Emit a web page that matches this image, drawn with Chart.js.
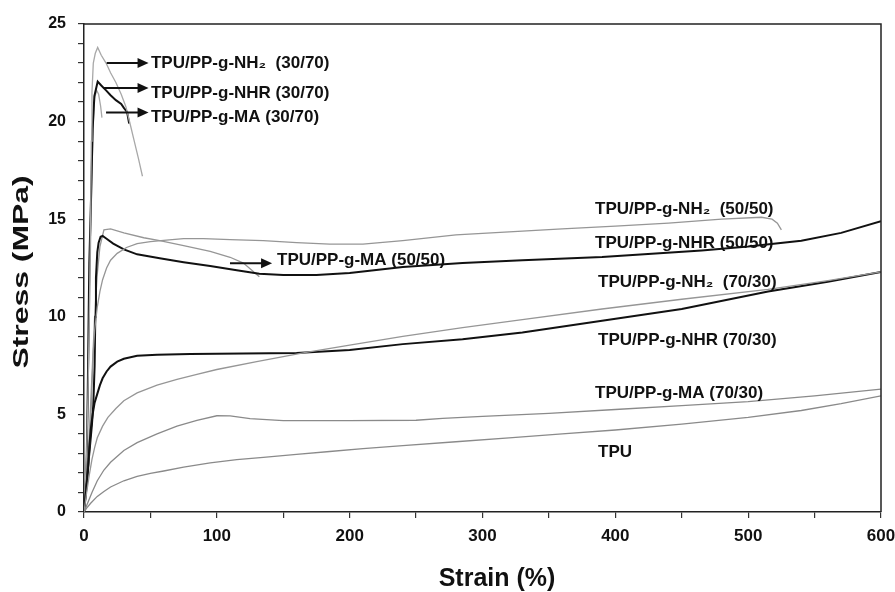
<!DOCTYPE html>
<html>
<head>
<meta charset="utf-8">
<script src="https://cdn.jsdelivr.net/npm/chart.js@4/dist/chart.umd.min.js"></script>
<style>
html,body{margin:0;padding:0;background:#fff;}
#wrap{width:895px;height:592px;}
</style>
</head>
<body>
<div id="wrap"><canvas id="c" width="895" height="592"></canvas></div>
<script>
// ---- Data (strain %, stress MPa) ----
const tpuStrain = [0, 2, 5, 10, 15, 20, 30, 40, 50, 60, 75, 95, 115, 135, 160, 185, 210, 240, 280, 320, 360, 400, 450, 500, 540, 570, 600];
const tpuStress = [0, 0.2, 0.45, 0.8, 1.05, 1.28, 1.6, 1.82, 1.98, 2.1, 2.3, 2.52, 2.68, 2.8, 2.95, 3.1, 3.25, 3.4, 3.6, 3.8, 4.0, 4.2, 4.5, 4.85, 5.2, 5.55, 5.95];

const ma7030Strain = [0, 3, 6, 10, 15, 20, 30, 40, 55, 70, 85, 100, 110, 125, 150, 200, 250, 270, 300, 350, 400, 450, 500, 550, 600];
const ma7030Stress = [0, 0.5, 1.0, 1.6, 2.15, 2.55, 3.15, 3.55, 4.0, 4.4, 4.7, 4.93, 4.92, 4.78, 4.68, 4.68, 4.7, 4.8, 4.9, 5.05, 5.25, 5.45, 5.65, 5.95, 6.3];

const nh27030Strain = [0, 2, 4, 6, 8, 10, 14, 18, 24, 30, 40, 55, 70, 85, 100, 130, 165, 200, 240, 285, 330, 390, 450, 515, 560, 600];
const nh27030Stress = [0, 1.0, 1.9, 2.7, 3.3, 3.8, 4.4, 4.85, 5.3, 5.7, 6.1, 6.5, 6.8, 7.05, 7.3, 7.7, 8.15, 8.55, 9.0, 9.45, 9.85, 10.4, 10.9, 11.4, 11.85, 12.3];

const nhr7030Strain = [0, 1.5, 3, 4, 5, 6.5, 8, 10, 12, 14, 17, 20, 25, 30, 40, 55, 80, 120, 160, 200, 240, 285, 330, 390, 450, 515, 560, 600];
const nhr7030Stress = [0, 1.0, 2.1, 3.3, 4.2, 5.0, 5.6, 6.05, 6.5, 6.85, 7.2, 7.45, 7.7, 7.85, 8.0, 8.06, 8.1, 8.12, 8.15, 8.3, 8.6, 8.85, 9.2, 9.8, 10.4, 11.3, 11.8, 12.3];

const nh25050Strain = [0, 3, 5, 6, 7, 8, 10, 12, 14, 17, 20, 25, 32, 40, 50, 62, 75, 90, 110, 135, 160, 185, 210, 240, 280, 320, 360, 400, 440, 480, 510, 518, 522, 525];
const nh25050Stress = [0, 2, 4.5, 6.5, 8.2, 9.3, 10.5, 11.3, 11.9, 12.5, 12.9, 13.25, 13.55, 13.75, 13.85, 13.93, 14.0, 14.0, 13.95, 13.9, 13.8, 13.72, 13.72, 13.9, 14.2, 14.35, 14.5, 14.65, 14.8, 15.0, 15.1, 15.0, 14.8, 14.45];

const nhr5050Strain = [0, 2, 4, 6, 7, 8, 8.5, 9, 10, 11, 12.5, 14, 17, 22, 30, 40, 57, 75, 95, 115, 132, 150, 175, 200, 240, 285, 330, 390, 465, 500, 540, 570, 600];
const nhr5050Stress = [0, 1.5, 3, 4.5, 5.5, 7.5, 10, 12, 13.3, 13.8, 14.1, 14.14, 14.0, 13.75, 13.45, 13.2, 13.0, 12.8, 12.6, 12.38, 12.2, 12.14, 12.14, 12.25, 12.55, 12.75, 12.9, 13.06, 13.4, 13.6, 13.9, 14.3, 14.9];

const ma5050Strain = [0, 2, 4, 6, 8, 10, 12, 15, 20, 30, 45, 57, 75, 95, 110, 120, 127, 132];
const ma5050Stress = [0, 1.5, 4, 7, 10, 12.2, 13.6, 14.45, 14.5, 14.3, 14.05, 13.9, 13.65, 13.35, 13.05, 12.75, 12.35, 12.05];

const nh23070Strain = [0, 2, 3, 4, 5, 5.5, 6, 7, 8.5, 10.3, 13, 16.6, 20, 24, 28, 31.6, 35, 37.6, 41, 44];
const nh23070Stress = [0, 3, 6, 10, 15, 19, 21.5, 23, 23.5, 23.8, 23.4, 23.0, 22.5, 22.0, 21.4, 20.75, 19.8, 19.06, 18.1, 17.2];

const nhr3070Strain = [0, 1, 2, 2.8, 3.5, 4, 5.3, 6.5, 7.8, 10.3, 13, 16.6, 20, 24, 28, 30, 32.4, 34];
const nhr3070Stress = [0, 1, 2.5, 6, 10, 12.75, 16.1, 19.6, 21.3, 22.05, 21.85, 21.6, 21.35, 21.1, 20.9, 20.7, 20.5, 19.9];

const ma3070Strain = [0, 2, 3, 4, 5, 6, 7, 8, 9.5, 11, 12.5, 13.5];
const ma3070Stress = [0, 3, 6, 10, 14, 17.5, 20, 21.2, 21.6, 21.4, 20.8, 20.2];

// ---- Tick definitions ----
const xMajorTicks = [0, 100, 200, 300, 400, 500, 600];
const yMajorTicks = [0, 5, 10, 15, 20, 25];

// ---- Curve labels (text, anchor in data units) ----
const curveLabels = [
  {text: 'TPU/PP-g-NH\u2082  (30/70)', x: 50.4, y: 23.0},
  {text: 'TPU/PP-g-NHR (30/70)', x: 50.4, y: 21.47},
  {text: 'TPU/PP-g-MA (30/70)', x: 50.4, y: 20.24},
  {text: 'TPU/PP-g-MA (50/50)', x: 145.3, y: 12.9},
  {text: 'TPU/PP-g-NH\u2082  (50/50)', x: 384.7, y: 15.52},
  {text: 'TPU/PP-g-NHR (50/50)', x: 384.7, y: 13.78},
  {text: 'TPU/PP-g-NH\u2082  (70/30)', x: 387, y: 11.78},
  {text: 'TPU/PP-g-NHR (70/30)', x: 387, y: 8.81},
  {text: 'TPU/PP-g-MA (70/30)', x: 384.7, y: 6.10},
  {text: 'TPU', x: 387, y: 3.07}
];
const arrows = [
  {x1: 17.1, x2: 48.6, y: 23.0},
  {x1: 14.3, x2: 48.6, y: 21.72},
  {x1: 16.6, x2: 48.6, y: 20.46},
  {x1: 109.9, x2: 141.6, y: 12.74}
];

const FONT = '"Liberation Sans", Arial, sans-serif';
const pts = (xs, ys) => xs.map((x, i) => ({x: x, y: ys[i]}));

const series = [
  {label: 'TPU', xs: tpuStrain, ys: tpuStress, color: '#8a8a8a', w: 1.3},
  {label: 'TPU/PP-g-MA (70/30)', xs: ma7030Strain, ys: ma7030Stress, color: '#8a8a8a', w: 1.3},
  {label: 'TPU/PP-g-NH2 (70/30)', xs: nh27030Strain, ys: nh27030Stress, color: '#969696', w: 1.3},
  {label: 'TPU/PP-g-NHR (70/30)', xs: nhr7030Strain, ys: nhr7030Stress, color: '#111111', w: 2},
  {label: 'TPU/PP-g-NH2 (50/50)', xs: nh25050Strain, ys: nh25050Stress, color: '#969696', w: 1.3},
  {label: 'TPU/PP-g-NHR (50/50)', xs: nhr5050Strain, ys: nhr5050Stress, color: '#111111', w: 2},
  {label: 'TPU/PP-g-MA (50/50)', xs: ma5050Strain, ys: ma5050Stress, color: '#969696', w: 1.3},
  {label: 'TPU/PP-g-NH2 (30/70)', xs: nh23070Strain, ys: nh23070Stress, color: '#a8a8a8', w: 1.3},
  {label: 'TPU/PP-g-NHR (30/70)', xs: nhr3070Strain, ys: nhr3070Stress, color: '#111111', w: 2},
  {label: 'TPU/PP-g-MA (30/70)', xs: ma3070Strain, ys: ma3070Stress, color: '#a8a8a8', w: 1.3}
];

const annotPlugin = {
  id: 'annot',
  afterDraw(chart) {
    const ctx = chart.ctx, xs = chart.scales.x, ys = chart.scales.y, ca = chart.chartArea;
    ctx.save();
    // frame top & right
    ctx.strokeStyle = '#222';
    ctx.lineWidth = 1.5;
    ctx.beginPath();
    ctx.moveTo(ca.left, ca.top);
    ctx.lineTo(ca.right, ca.top);
    ctx.lineTo(ca.right, ca.bottom);
    ctx.stroke();
    // curve labels
    ctx.fillStyle = '#111';
    ctx.font = 'bold 17px ' + FONT;
    ctx.textAlign = 'left';
    ctx.textBaseline = 'middle';
    curveLabels.forEach(l => {
      ctx.fillText(l.text, xs.getPixelForValue(l.x), ys.getPixelForValue(l.y));
    });
    // arrows
    ctx.strokeStyle = '#111';
    ctx.lineWidth = 2;
    arrows.forEach(a => {
      const x1 = xs.getPixelForValue(a.x1), x2 = xs.getPixelForValue(a.x2), y = ys.getPixelForValue(a.y);
      ctx.beginPath();
      ctx.moveTo(x1, y);
      ctx.lineTo(x2 - 8, y);
      ctx.stroke();
      ctx.beginPath();
      ctx.moveTo(x2, y);
      ctx.lineTo(x2 - 11, y - 5);
      ctx.lineTo(x2 - 11, y + 5);
      ctx.closePath();
      ctx.fill();
    });
    // axis titles
    ctx.font = 'bold 25px ' + FONT;
    ctx.textAlign = 'center';
    ctx.fillText('Strain (%)', 497, 579);
    ctx.save();
    ctx.translate(22, 272);
    ctx.rotate(-Math.PI / 2);
    ctx.scale(1.45, 1);
    ctx.font = 'bold 22px ' + FONT;
    ctx.fillText('Stress (MPa)', 0, 0);
    ctx.restore();
    ctx.restore();
  }
};

new Chart(document.getElementById('c'), {
  type: 'line',
  data: {
    datasets: series.map(s => ({
      label: s.label,
      data: pts(s.xs, s.ys),
      borderColor: s.color,
      borderWidth: s.w,
      pointRadius: 0,
      fill: false,
      tension: 0
    }))
  },
  options: {
    responsive: false,
    animation: false,
    devicePixelRatio: 1,
    layout: {padding: {top: 24, right: 14, left: 0, bottom: 0}},
    plugins: {legend: {display: false}, tooltip: {enabled: false}},
    scales: {
      x: {
        type: 'linear', min: 0, max: 600,
        afterFit(scale) { scale.height = 80; scale.paddingLeft = 0; scale.paddingRight = 0; },
        ticks: {
          stepSize: 50, autoSkip: false, maxRotation: 0, padding: 8,
          color: '#111', font: {family: FONT, size: 17, weight: 'bold'},
          callback: v => xMajorTicks.includes(v) ? String(v) : ''
        },
        grid: {drawOnChartArea: false, drawTicks: true, tickLength: 6, color: '#333', lineWidth: 1.2},
        border: {display: true, color: '#222', width: 1.5}
      },
      y: {
        type: 'linear', min: 0, max: 25,
        afterFit(scale) { scale.width = 84; scale.paddingTop = 0; scale.paddingBottom = 0; },
        ticks: {
          stepSize: 1, autoSkip: false, padding: 12,
          color: '#111', font: {family: FONT, size: 16, weight: 'bold'},
          callback: v => yMajorTicks.includes(v) ? String(v) : ''
        },
        grid: {drawOnChartArea: false, drawTicks: true, tickLength: 6, color: '#333', lineWidth: 1.2},
        border: {display: true, color: '#222', width: 1.5}
      }
    }
  },
  plugins: [annotPlugin]
});
</script>
</body>
</html>
